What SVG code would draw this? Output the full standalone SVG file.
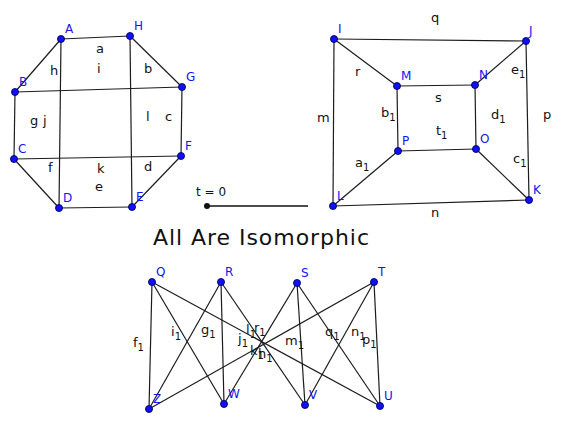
<svg xmlns="http://www.w3.org/2000/svg" width="562" height="426" viewBox="0 0 562 426">
<style>
.e{stroke:#1c1c1c;stroke-width:1.2;fill:none}
.n{fill:#1010ff;stroke:#00005a;stroke-width:0.9}
.nl{font-family:"DejaVu Sans",sans-serif;font-size:12px;fill:#1414f0}
.el{font-family:"DejaVu Sans",sans-serif;font-size:13px;fill:#111}
.s{font-size:10px}
</style>
<rect width="562" height="426" fill="#fff"/>
<g id="connectors">
<line class="e" x1="61" y1="39" x2="130" y2="36"/>
<line class="e" x1="130" y1="36" x2="182" y2="87"/>
<line class="e" x1="182" y1="87" x2="181" y2="156"/>
<line class="e" x1="181" y1="156" x2="132" y2="207"/>
<line class="e" x1="132" y1="207" x2="59" y2="208"/>
<line class="e" x1="59" y1="208" x2="14" y2="159"/>
<line class="e" x1="14" y1="159" x2="15" y2="92"/>
<line class="e" x1="15" y1="92" x2="61" y2="39"/>
<line class="e" x1="61" y1="39" x2="59" y2="208"/>
<line class="e" x1="130" y1="36" x2="132" y2="207"/>
<line class="e" x1="15" y1="92" x2="182" y2="87"/>
<line class="e" x1="14" y1="159" x2="181" y2="156"/>
<line class="e" x1="334" y1="39" x2="526" y2="41"/>
<line class="e" x1="526" y1="41" x2="529" y2="200"/>
<line class="e" x1="529" y1="200" x2="333" y2="206"/>
<line class="e" x1="333" y1="206" x2="334" y2="39"/>
<line class="e" x1="334" y1="39" x2="397" y2="86"/>
<line class="e" x1="526" y1="41" x2="475" y2="85"/>
<line class="e" x1="529" y1="200" x2="476" y2="149"/>
<line class="e" x1="333" y1="206" x2="398" y2="151"/>
<line class="e" x1="397" y1="86" x2="475" y2="85"/>
<line class="e" x1="475" y1="85" x2="476" y2="149"/>
<line class="e" x1="476" y1="149" x2="398" y2="151"/>
<line class="e" x1="398" y1="151" x2="397" y2="86"/>
<line class="e" x1="152" y1="282" x2="149" y2="409"/>
<line class="e" x1="152" y1="282" x2="224" y2="404"/>
<line class="e" x1="152" y1="282" x2="380" y2="406"/>
<line class="e" x1="221" y1="282" x2="149" y2="409"/>
<line class="e" x1="221" y1="282" x2="224" y2="404"/>
<line class="e" x1="221" y1="282" x2="305" y2="405"/>
<line class="e" x1="297" y1="283" x2="224" y2="404"/>
<line class="e" x1="297" y1="283" x2="305" y2="405"/>
<line class="e" x1="297" y1="283" x2="380" y2="406"/>
<line class="e" x1="374" y1="282" x2="149" y2="409"/>
<line class="e" x1="374" y1="282" x2="305" y2="405"/>
<line class="e" x1="374" y1="282" x2="380" y2="406"/>
</g>
<g id="edge-labels" class="el">
<text x="96" y="53">a</text>
<text x="97" y="73">i</text>
<text x="50" y="75">h</text>
<text x="144" y="73">b</text>
<text x="30" y="125">g</text>
<text x="43" y="125">j</text>
<text x="146" y="121">l</text>
<text x="165" y="121">c</text>
<text x="48" y="172">f</text>
<text x="97" y="173">k</text>
<text x="144" y="171">d</text>
<text x="95" y="191">e</text>

<text x="431" y="22">q</text>
<text x="355" y="76">r</text>
<text x="317" y="122">m</text>
<text x="381" y="117">b<tspan class="s" dy="4">1</tspan></text>
<text x="435" y="102">s</text>
<text x="491" y="119">d<tspan class="s" dy="4">1</tspan></text>
<text x="543" y="119">p</text>
<text x="511" y="74">e<tspan class="s" dy="4">1</tspan></text>
<text x="436" y="135">t<tspan class="s" dy="4">1</tspan></text>
<text x="355" y="167">a<tspan class="s" dy="4">1</tspan></text>
<text x="513" y="163">c<tspan class="s" dy="4">1</tspan></text>
<text x="431" y="217">n</text>

<text x="133" y="347">f<tspan class="s" dy="4">1</tspan></text>
<text x="171" y="336">i<tspan class="s" dy="4">1</tspan></text>
<text x="201" y="334">g<tspan class="s" dy="4">1</tspan></text>
<text x="246" y="334">l<tspan class="s" dy="4">1</tspan></text>
<text x="254" y="332">r<tspan class="s" dy="4">1</tspan></text>
<text x="238" y="343">j<tspan class="s" dy="4">1</tspan></text>
<text x="250" y="355">k<tspan class="s" dy="4">1</tspan></text>
<text x="258" y="358">h<tspan class="s" dy="4">1</tspan></text>
<text x="285" y="345">m<tspan class="s" dy="4">1</tspan></text>
<text x="325" y="336">q<tspan class="s" dy="4">1</tspan></text>
<text x="351" y="336">n<tspan class="s" dy="4">1</tspan></text>
<text x="362" y="344">p<tspan class="s" dy="4">1</tspan></text>
</g>
<g id="node-A"><circle class="n" cx="61" cy="39" r="3.5"/><text class="nl" x="65" y="33">A</text></g>
<g id="node-H"><circle class="n" cx="130" cy="36" r="3.5"/><text class="nl" x="134" y="30">H</text></g>
<g id="node-G"><circle class="n" cx="182" cy="87" r="3.5"/><text class="nl" x="186" y="81">G</text></g>
<g id="node-F"><circle class="n" cx="181" cy="156" r="3.5"/><text class="nl" x="185" y="150">F</text></g>
<g id="node-E"><circle class="n" cx="132" cy="207" r="3.5"/><text class="nl" x="136" y="201">E</text></g>
<g id="node-D"><circle class="n" cx="59" cy="208" r="3.5"/><text class="nl" x="63" y="202">D</text></g>
<g id="node-C"><circle class="n" cx="14" cy="159" r="3.5"/><text class="nl" x="18" y="153">C</text></g>
<g id="node-B"><circle class="n" cx="15" cy="92" r="3.5"/><text class="nl" x="19" y="86">B</text></g>

<g id="node-I"><circle class="n" cx="334" cy="39" r="3.5"/><text class="nl" x="338" y="33">I</text></g>
<g id="node-J"><circle class="n" cx="526" cy="41" r="3.5"/><text class="nl" x="529" y="35">J</text></g>
<g id="node-K"><circle class="n" cx="529" cy="200" r="3.5"/><text class="nl" x="533" y="194">K</text></g>
<g id="node-L"><circle class="n" cx="333" cy="206" r="3.5"/><text class="nl" x="337" y="200">L</text></g>
<g id="node-M"><circle class="n" cx="397" cy="86" r="3.5"/><text class="nl" x="401" y="80">M</text></g>
<g id="node-N"><circle class="n" cx="475" cy="85" r="3.5"/><text class="nl" x="479" y="79">N</text></g>
<g id="node-O"><circle class="n" cx="476" cy="149" r="3.5"/><text class="nl" x="480" y="143">O</text></g>
<g id="node-P"><circle class="n" cx="398" cy="151" r="3.5"/><text class="nl" x="402" y="145">P</text></g>

<g id="node-Q"><circle class="n" cx="152" cy="282" r="3.5"/><text class="nl" x="156" y="276">Q</text></g>
<g id="node-R"><circle class="n" cx="221" cy="282" r="3.5"/><text class="nl" x="225" y="276">R</text></g>
<g id="node-S"><circle class="n" cx="297" cy="283" r="3.5"/><text class="nl" x="301" y="277">S</text></g>
<g id="node-T"><circle class="n" cx="374" cy="282" r="3.5"/><text class="nl" x="378" y="276">T</text></g>
<g id="node-Z"><circle class="n" cx="149" cy="409" r="3.5"/><text class="nl" x="153" y="403">Z</text></g>
<g id="node-W"><circle class="n" cx="224" cy="404" r="3.5"/><text class="nl" x="228" y="398">W</text></g>
<g id="node-V"><circle class="n" cx="305" cy="405" r="3.5"/><text class="nl" x="309" y="399">V</text></g>
<g id="node-U"><circle class="n" cx="380" cy="406" r="3.5"/><text class="nl" x="384" y="400">U</text></g>

<g id="slider">
<text x="196" y="196" font-family="DejaVu Sans, sans-serif" font-size="12" fill="#111">t = 0</text>
<line x1="207" y1="206" x2="308" y2="206" stroke="#111" stroke-width="1.3"/>
<circle cx="207" cy="206" r="3" fill="#111"/>
</g>
<text id="title" x="153" y="245" font-family="DejaVu Sans, sans-serif" font-size="22" fill="#111" textLength="216" lengthAdjust="spacing">All Are Isomorphic</text>
</svg>
